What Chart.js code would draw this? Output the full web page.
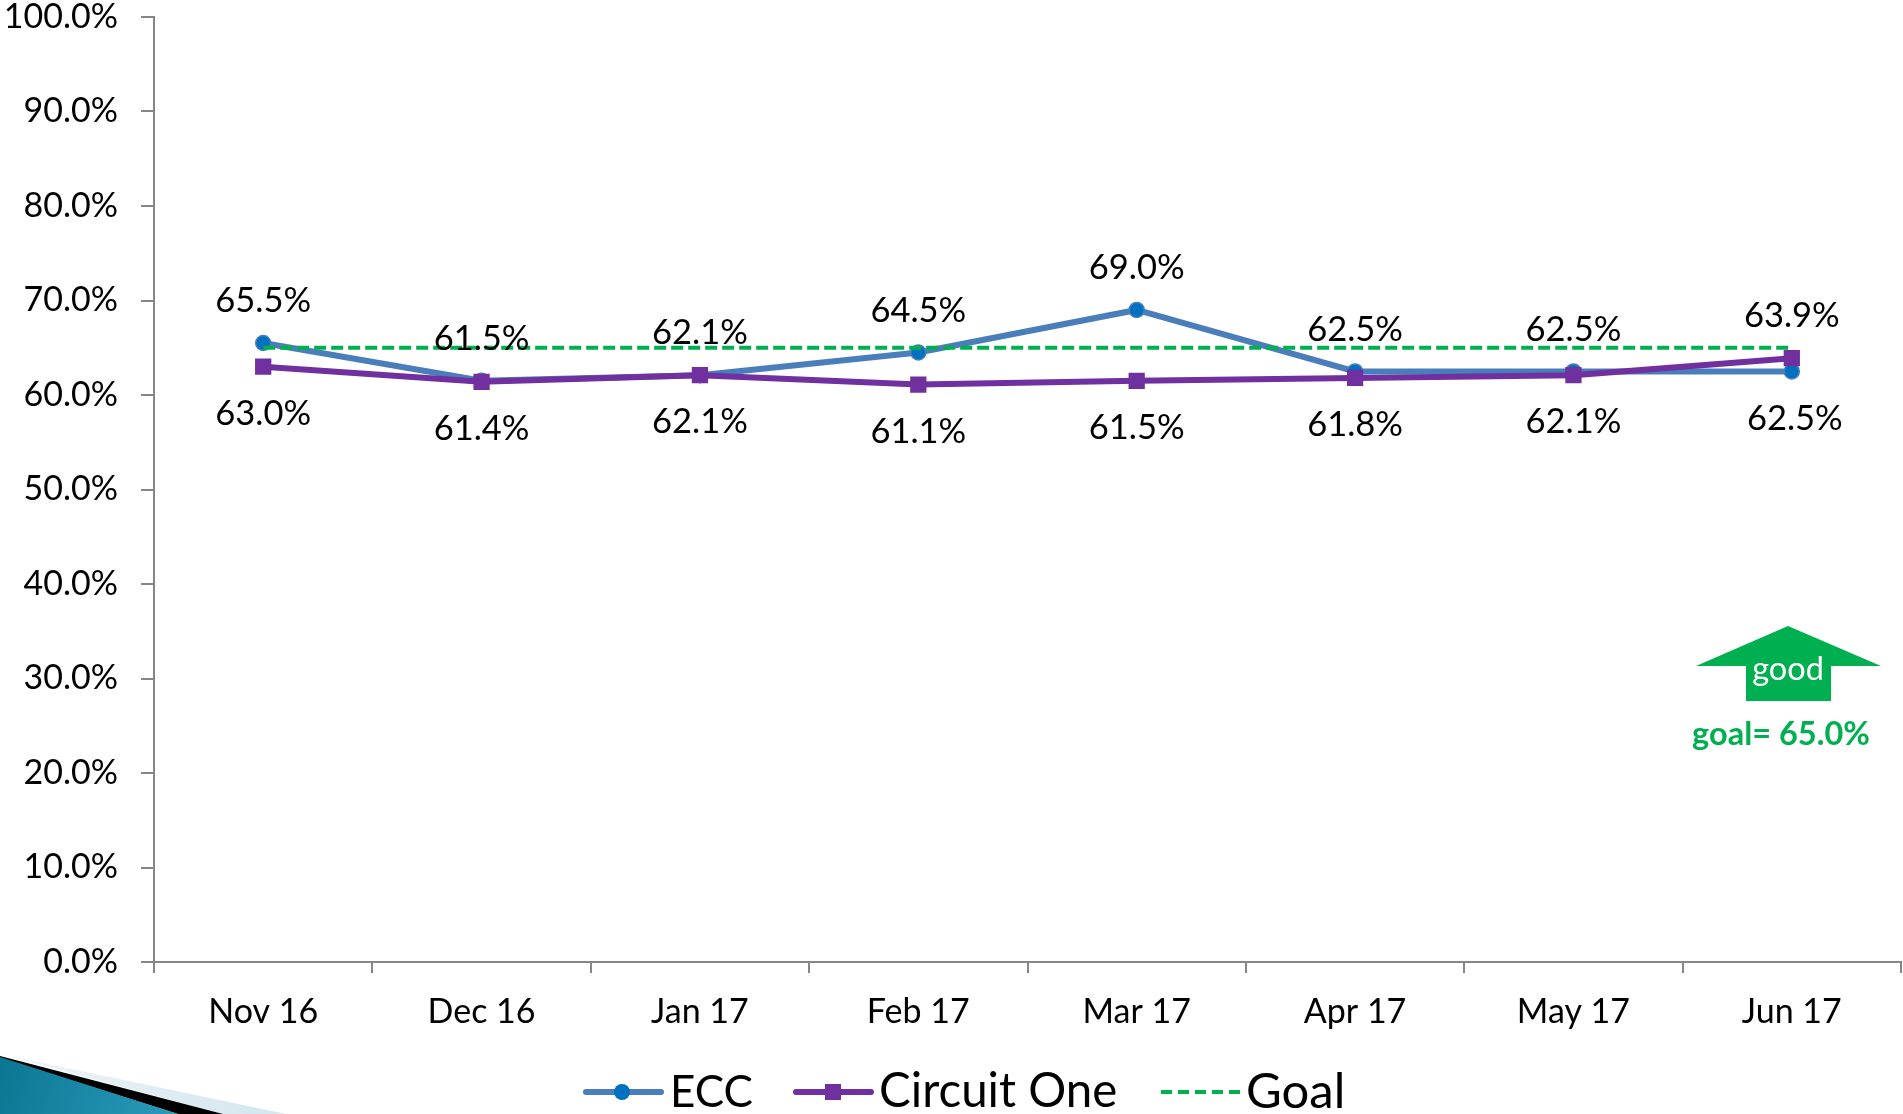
<!DOCTYPE html>
<html><head><meta charset="utf-8">
<style>html,body{margin:0;padding:0;background:#fff;overflow:hidden}canvas{display:block}</style>
<script src="https://cdn.jsdelivr.net/npm/chart.js@4/dist/chart.umd.min.js"></script>
</head><body><canvas id="c" width="1903" height="1114"></canvas>
<script>
const categories = ["Nov 16","Dec 16","Jan 17","Feb 17","Mar 17","Apr 17","May 17","Jun 17"];
const eccValues = [65.5,61.5,62.1,64.5,69.0,62.5,62.5,62.5];
const circuitValues = [63.0,61.4,62.1,61.1,61.5,61.8,62.1,63.9];
const goalValues = [65,65,65,65,65,65,65,65];

const FONT = 'Lato, Carlito, sans-serif';
const BLUE = '#4a7ebb', PURPLE = '#7030a0', GREEN = '#00b050';
const PLOT_RIGHT = 1901;

const layoutPlugin = {
  id: 'fixRight',
  afterLayout(chart) {
    const x = chart.scales.x, a = chart.chartArea;
    x.right = PLOT_RIGHT; x.width = PLOT_RIGHT - x.left; x.configure();
    a.right = PLOT_RIGHT; a.width = PLOT_RIGHT - a.left;
  }
};

const cornerPlugin = {
  id: 'corner',
  beforeDraw(chart) {
    const c = chart.ctx; c.save();
    c.fillStyle = '#fff'; c.fillRect(0,0,chart.width,chart.height);
    const poly = (pts, fill) => { c.beginPath(); pts.forEach((p,i)=> i?c.lineTo(p[0],p[1]):c.moveTo(p[0],p[1])); c.closePath(); c.fillStyle = fill; c.fill(); };
    const pale = c.createLinearGradient(0,1055,286,1114);
    pale.addColorStop(0,'#eef6f9'); pale.addColorStop(1,'#d3e6ee');
    poly([[0,1054],[286,1114],[223,1114]], pale);
    poly([[0,1056],[223,1114],[178,1114],[0,1058]], '#000');
    const teal = c.createLinearGradient(0,1060,178,1114);
    teal.addColorStop(0,'#0b7692'); teal.addColorStop(1,'#2b9cbd');
    poly([[0,1057],[178,1114],[0,1114]], teal);
    c.restore();
  }
};

const labelPlugin = {
  id: 'labels',
  afterDatasetsDraw(chart) {
    const c = chart.ctx, x = chart.scales.x, y = chart.scales.y;
    c.save();
    c.font = '34.5px ' + FONT; c.fillStyle = '#000'; c.textAlign = 'center'; c.textBaseline = 'middle';
    eccValues.forEach((v,i) => {
      const last = i === eccValues.length-1;
      c.fillText(v.toFixed(1)+'%', x.getPixelForValue(i)+(last?3:0), y.getPixelForValue(v)+(last?47:-42));
    });
    circuitValues.forEach((v,i) => {
      const last = i === circuitValues.length-1;
      c.fillText(v.toFixed(1)+'%', x.getPixelForValue(i), y.getPixelForValue(v)+(last?-42:47));
    });
    // arrow
    c.beginPath();
    [[1788,626],[1881,666],[1831,666],[1831,701],[1746,701],[1746,666],[1696,666]].forEach((p,i)=> i?c.lineTo(p[0],p[1]):c.moveTo(p[0],p[1]));
    c.closePath(); c.fillStyle = GREEN; c.fill();
    c.fillStyle = '#fff'; c.font = '32.5px ' + FONT; c.fillText('good', 1788, 670);
    c.fillStyle = GREEN; c.font = 'bold 32.5px ' + FONT; c.fillText('goal= 65.0%', 1781, 735);
    // legend
    const ly = 1092;
    const seg = (x0,x1,col,w,dash) => { c.save(); c.beginPath(); c.setLineDash(dash||[]); c.lineCap = dash?'butt':'round'; c.strokeStyle = col; c.lineWidth = w; c.moveTo(x0,ly); c.lineTo(x1,ly); c.stroke(); c.restore(); };
    seg(586,661,BLUE,6);
    c.beginPath(); c.arc(622,ly,8,0,Math.PI*2); c.fillStyle = '#0070c0'; c.fill();
    seg(796,871,PURPLE,6);
    c.fillStyle = PURPLE; c.fillRect(825,ly-8,16,16);
    seg(1161,1240,GREEN,4,[11,6]);
    c.fillStyle = '#000'; c.textAlign = 'left';
    c.font = '44px ' + FONT; c.fillText(chart.data.datasets[0].label, 670, ly+1);
    c.font = '47.5px ' + FONT; c.fillText(chart.data.datasets[1].label, 879, ly);
    c.font = '49px ' + FONT; c.fillText(chart.data.datasets[2].label, 1246, ly);
    c.restore();
  }
};

const noPad = s => { s.paddingTop = 0; s.paddingBottom = 0; s.paddingLeft = 0; s.paddingRight = 0; };

new Chart(document.getElementById('c'), {
  type: 'line',
  data: {
    labels: categories,
    datasets: [
      {label:'ECC', data: eccValues, borderColor: BLUE, borderWidth: 6, tension: 0, pointStyle:'circle', pointRadius: 7.5, pointBackgroundColor:'#0070c0', pointBorderColor: BLUE, pointBorderWidth: 1.5, order: 3},
      {label:'Circuit One', data: circuitValues, borderColor: PURPLE, borderWidth: 6, tension: 0, pointStyle:'rect', pointRadius: 11.5, pointBackgroundColor: PURPLE, pointBorderColor: PURPLE, pointBorderWidth: 0, order: 2},
      {label:'Goal', data: goalValues, borderColor: GREEN, borderWidth: 4, borderDash:[12,5], tension: 0, pointRadius: 0, order: 1}
    ]
  },
  plugins: [layoutPlugin, cornerPlugin, labelPlugin],
  options: {
    responsive: false, animation: false,
    layout: {padding: {top: 17, right: 2, left: 0, bottom: 0}},
    plugins: {legend: {display:false}, tooltip: {enabled:false}},
    scales: {
      x: {
        type:'category', offset:true,
        afterFit(s){ s.height = 152; noPad(s); },
        border:{color:'#868686', width:2},
        grid:{display:true, offset:true, drawOnChartArea:false, drawTicks:true, tickLength:11, color:'#868686', lineWidth:2},
        ticks:{color:'#000', font:{family:FONT,size:34}, padding:19, maxRotation:0, autoSkip:false}
      },
      y: {
        min:0, max:100,
        afterFit(s){ s.width = 154; noPad(s); },
        border:{color:'#868686', width:2},
        grid:{display:true, drawOnChartArea:false, drawTicks:true, tickLength:13, color:'#868686', lineWidth:2},
        ticks:{stepSize:10, color:'#000', font:{family:FONT,size:34}, padding:23, callback:v=>v.toFixed(1)+'%'}
      }
    }
  }
});
</script></body></html>
